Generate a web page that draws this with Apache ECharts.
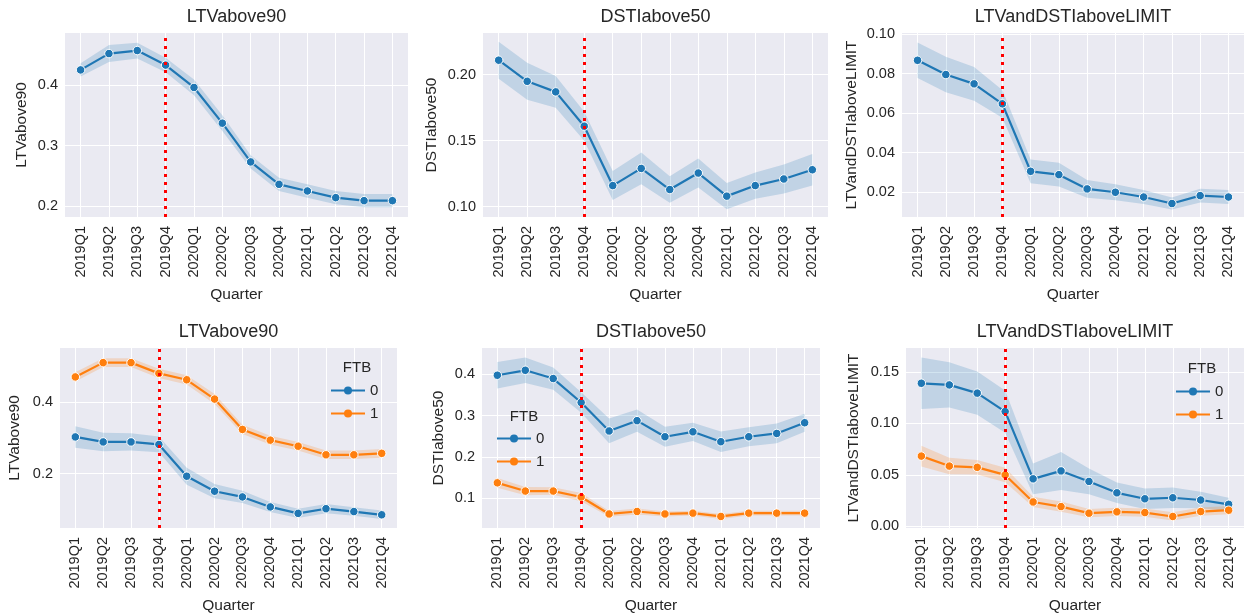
<!DOCTYPE html>
<html>
<head>
<meta charset="utf-8">
<script src="https://cdn.jsdelivr.net/npm/echarts@6/dist/echarts.min.js"></script>
<style>
  html, body { margin: 0; padding: 0; background: #ffffff; }
  #chart { width: 1244px; height: 615px; }
</style>
</head>
<body>
<div id="chart"></div>
<script>
// Quarter categories shared by every panel
const quarters = ['2019Q1', '2019Q2', '2019Q3', '2019Q4', '2020Q1', '2020Q2',
                  '2020Q3', '2020Q4', '2021Q1', '2021Q2', '2021Q3', '2021Q4'];
const policyQuarter = '2019Q4';
const groupNames = ['0', '1'];

// Share of loans with LTV above 90 (all borrowers) and 95% CI half-widths
const ltvAll   = [0.425, 0.452, 0.457, 0.433, 0.396, 0.337, 0.273, 0.236, 0.225, 0.214, 0.209, 0.209];
const ltvAllCi = [0.011, 0.014, 0.013, 0.012, 0.013, 0.013, 0.011, 0.011, 0.011, 0.011, 0.011, 0.011];

// Share of loans with DSTI above 50 (all borrowers)
const dstiAll   = [0.211, 0.195, 0.187, 0.161, 0.116, 0.129, 0.113, 0.1255, 0.108, 0.116, 0.121, 0.128];
const dstiAllCi = [0.014, 0.014, 0.012, 0.011, 0.011, 0.012, 0.010, 0.011, 0.010, 0.010, 0.011, 0.012];

// Share of loans above both limits (all borrowers)
const bothAll   = [0.0867, 0.0795, 0.0748, 0.0647, 0.0306, 0.0289, 0.0217, 0.0200, 0.0176, 0.0143, 0.0183, 0.0176];
const bothAllCi = [0.0090, 0.0090, 0.0085, 0.0070, 0.0060, 0.0060, 0.0045, 0.0040, 0.0035, 0.0030, 0.0035, 0.0035];

// Split by first-time buyer flag (FTB = 0 / 1)
const ltvFtb0   = [0.303, 0.289, 0.289, 0.282, 0.193, 0.151, 0.135, 0.107, 0.089, 0.102, 0.094, 0.085];
const ltvFtb0Ci = [0.030, 0.026, 0.024, 0.022, 0.024, 0.020, 0.017, 0.014, 0.013, 0.013, 0.012, 0.012];
const ltvFtb1   = [0.471, 0.511, 0.511, 0.481, 0.463, 0.409, 0.324, 0.294, 0.277, 0.253, 0.253, 0.257];
const ltvFtb1Ci = [0.013, 0.012, 0.012, 0.013, 0.013, 0.014, 0.013, 0.012, 0.012, 0.012, 0.012, 0.012];

const dstiFtb0   = [0.398, 0.410, 0.390, 0.332, 0.263, 0.288, 0.249, 0.261, 0.237, 0.249, 0.257, 0.283];
const dstiFtb0Ci = [0.032, 0.031, 0.027, 0.025, 0.030, 0.027, 0.024, 0.022, 0.025, 0.023, 0.024, 0.022];
const dstiFtb1   = [0.1374, 0.1175, 0.1175, 0.103, 0.062, 0.068, 0.062, 0.064, 0.056, 0.064, 0.064, 0.064];
const dstiFtb1Ci = [0.012, 0.010, 0.009, 0.010, 0.007, 0.007, 0.006, 0.006, 0.006, 0.006, 0.006, 0.006];

const bothFtb0   = [0.1391, 0.1375, 0.1295, 0.1116, 0.0462, 0.0539, 0.0437, 0.0326, 0.0268, 0.0278, 0.0256, 0.0214];
const bothFtb0Ci = [0.0250, 0.0220, 0.0210, 0.0205, 0.0150, 0.0185, 0.0125, 0.0100, 0.0100, 0.0100, 0.0080, 0.0065];
const bothFtb1   = [0.0683, 0.0586, 0.0574, 0.0500, 0.0237, 0.0192, 0.0128, 0.0141, 0.0134, 0.0096, 0.0144, 0.0157];
const bothFtb1Ci = [0.0100, 0.0080, 0.0070, 0.0070, 0.0050, 0.0050, 0.0040, 0.0040, 0.0040, 0.0040, 0.0040, 0.0040];

// Y tick values per panel
const ltvTicksTop  = [0.2, 0.3, 0.4];
const dstiTicksTop = [0.10, 0.15, 0.20];
const bothTicksTop = [0.02, 0.04, 0.06, 0.08, 0.10];
const ltvTicksBot  = [0.2, 0.4];
const dstiTicksBot = [0.1, 0.2, 0.3, 0.4];
const bothTicksBot = [0.00, 0.05, 0.10, 0.15];

const FONT = "'Liberation Sans', Arial, 'DejaVu Sans', sans-serif";
const INK = '#262626';
const BLUE = '#1f77b4';
const ORANGE = '#ff7f0e';
const PANEL_BG = '#eaeaf2';

const panels = [
  { title: 'LTVabove90', rect: [65, 33, 343, 184], yRange: [0.182, 0.486], ticks: ltvTicksTop, dec: 1, nameGap: 35,
    lines: [{ name: 'all', mean: ltvAll, ci: ltvAllCi, color: BLUE }] },
  { title: 'DSTIabove50', rect: [483, 33, 345, 184], yRange: [0.0922, 0.2316], ticks: dstiTicksTop, dec: 2, nameGap: 43,
    lines: [{ name: 'all', mean: dstiAll, ci: dstiAllCi, color: BLUE }] },
  { title: 'LTVandDSTIaboveLIMIT', rect: [902, 33, 342, 184], yRange: [0.0075, 0.1005], ticks: bothTicksTop, dec: 2, nameGap: 42,
    lines: [{ name: 'all', mean: bothAll, ci: bothAllCi, color: BLUE }] },
  { title: 'LTVabove90', rect: [60, 348, 337, 183], yRange: [0.048, 0.552], ticks: ltvTicksBot, dec: 1, nameGap: 37,
    lines: [{ name: groupNames[0], mean: ltvFtb0, ci: ltvFtb0Ci, color: BLUE },
            { name: groupNames[1], mean: ltvFtb1, ci: ltvFtb1Ci, color: ORANGE }],
    legend: { left: 330, top: 383, titleX: 357, titleY: 368 } },
  { title: 'DSTIabove50', rect: [482, 348, 338, 183], yRange: [0.028, 0.464], ticks: dstiTicksBot, dec: 1, nameGap: 35,
    lines: [{ name: groupNames[0], mean: dstiFtb0, ci: dstiFtb0Ci, color: BLUE },
            { name: groupNames[1], mean: dstiFtb1, ci: dstiFtb1Ci, color: ORANGE }],
    legend: { left: 496, top: 431, titleX: 524, titleY: 417 } },
  { title: 'LTVandDSTIaboveLIMIT', rect: [906, 348, 338, 183], yRange: [-0.0016, 0.1734], ticks: bothTicksBot, dec: 2, nameGap: 44,
    lines: [{ name: groupNames[0], mean: bothFtb0, ci: bothFtb0Ci, color: BLUE },
            { name: groupNames[1], mean: bothFtb1, ci: bothFtb1Ci, color: ORANGE }],
    legend: { left: 1175, top: 384, titleX: 1202, titleY: 369 } }
];

const qIdx = quarters.map((q, i) => i);
const grid = [], xAxis = [], yAxis = [], series = [], legend = [], graphic = [];

// Confidence band drawn as one polygon through the axis scales
function bandSeries(i, ln) {
  const rows = ln.mean.map((m, k) => [k, m - ln.ci[k], m + ln.ci[k]]);
  return {
    type: 'custom', xAxisIndex: i, yAxisIndex: i, silent: true, z: 1,
    name: 'ci_' + i + '_' + ln.name,
    encode: { x: 0, y: [1, 2] },
    data: rows,
    renderItem: (params, api) => {
      if (params.dataIndex !== 0) return null;
      const upper = rows.map(r => api.coord([r[0], r[2]]));
      const lower = rows.map(r => api.coord([r[0], r[1]])).reverse();
      return {
        type: 'polygon',
        shape: { points: upper.concat(lower) },
        style: { fill: ln.color, opacity: 0.2 }
      };
    }
  };
}

panels.forEach((p, i) => {
  const [left, top, width, height] = p.rect;
  grid.push({ left, top, width, height, show: true, backgroundColor: PANEL_BG, borderWidth: 0 });

  xAxis.push({
    type: 'value', gridIndex: i, min: -0.55, max: quarters.length - 1 + 0.55,
    name: 'Quarter', nameLocation: 'middle', nameGap: 70, nameMoveOverlap: false,
    nameTextStyle: { color: INK, fontSize: 15.5, fontFamily: FONT },
    axisLine: { show: false },
    axisTick: { show: false, customValues: qIdx },
    axisLabel: { customValues: qIdx, rotate: 90, margin: 9, color: INK, fontSize: 14.5, fontFamily: FONT,
                 formatter: v => quarters[Math.round(v)] },
    splitLine: { show: true, lineStyle: { color: '#ffffff', width: 1 } }
  });

  yAxis.push({
    type: 'value', gridIndex: i, min: p.yRange[0], max: p.yRange[1],
    name: p.title, nameLocation: 'middle', nameGap: p.nameGap, nameMoveOverlap: false,
    nameTextStyle: { color: INK, fontSize: 15.5, fontFamily: FONT },
    axisLine: { show: false },
    axisTick: { show: false, customValues: p.ticks },
    axisLabel: { customValues: p.ticks, margin: 7, color: INK, fontSize: 14.5, fontFamily: FONT,
                 formatter: v => v.toFixed(p.dec) },
    splitLine: { show: true, lineStyle: { color: '#ffffff', width: 1 } }
  });

  graphic.push({
    type: 'text', x: left + width / 2, y: top - 16, silent: true, z: 100,
    style: { text: p.title, fill: INK, font: '18px ' + FONT,
             textAlign: 'center', textVerticalAlign: 'middle', align: 'center', verticalAlign: 'middle' }
  });

  p.lines.forEach((ln, j) => {
    series.push(bandSeries(i, ln));
    const main = {
      type: 'line', xAxisIndex: i, yAxisIndex: i, name: ln.name, z: 3 + j,
      symbol: 'circle', symbolSize: 8.5,
      itemStyle: { color: ln.color, borderColor: '#ffffff', borderWidth: 1 },
      lineStyle: { color: ln.color, width: 2.2 },
      data: ln.mean.map((m, k) => [k, m])
    };
    if (j === p.lines.length - 1) {
      main.markLine = {
        silent: true, symbol: 'none', z: 10,
        label: { show: false },
        lineStyle: { color: '#ff0000', type: [3, 5], width: 3, opacity: 1 },
        data: [{ xAxis: quarters.indexOf(policyQuarter) }]
      };
    }
    series.push(main);
  });

  if (p.legend) {
    legend.push({
      data: groupNames, orient: 'vertical', left: p.legend.left, top: p.legend.top, z: 100,
      padding: 0, itemWidth: 34, itemHeight: 10, itemGap: 8, selectedMode: false,
      itemStyle: { borderWidth: 0 },
      textStyle: { color: INK, fontSize: 15, fontFamily: FONT, lineHeight: 15 }
    });
    graphic.push({
      type: 'text', x: p.legend.titleX, y: p.legend.titleY, silent: true, z: 100,
      style: { text: 'FTB', fill: INK, font: '15px ' + FONT,
               textAlign: 'center', textVerticalAlign: 'middle', align: 'center', verticalAlign: 'middle' }
    });
  }
});

const chart = echarts.init(document.getElementById('chart'), null, { renderer: 'canvas' });
chart.setOption({
  animation: false,
  backgroundColor: '#ffffff',
  textStyle: { fontFamily: FONT },
  grid, xAxis, yAxis, series, legend, graphic
});
</script>
</body>
</html>
